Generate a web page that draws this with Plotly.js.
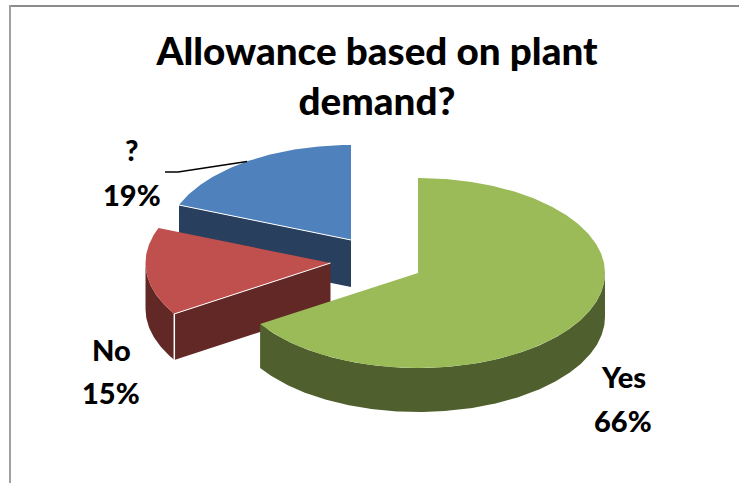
<!DOCTYPE html>
<html>
<head>
<meta charset="utf-8">
<script src="https://cdn.plot.ly/plotly-3.0.1.min.js"></script>
<style>html,body{margin:0;padding:0;background:#fff}#chart{width:739px;height:483px}</style>
</head>
<body>
<div id="chart"></div>
<script>
const titleText = "Allowance based on plant<br>demand?";
const categories = ["Yes", "No", "?"];
const values = [66, 15, 19];
const percentLabels = ["66%", "15%", "19%"];
const topColors = ["#9BBB59", "#C0504D", "#4F81BD"];
const sideColors = ["#4F5F2D", "#622826", "#283F5E"];

// Projection of each exploded slice (pixel-scaled axes)
const centres = [[418, 273], [330.5, 263], [351, 240]];
const depths = [44, 46, 47];
const radiiX = [187, 185, 185];
const ry = 95;
const labelPos = [[623, 376, 420], [111, 349, 392], [132, 149, 194]];

const total = values.reduce((a, b) => a + b, 0);
const rad = d => d * Math.PI / 180;
let acc = 0;
const slices = values.map((v, i) => {
  const start = acc / total * 360; acc += v;
  return {start, end: acc / total * 360, c: centres[i], d: depths[i], rx: radiiX[i]};
});
const pt = (s, a, dz = 0) => [s.c[0] + s.rx * Math.sin(rad(a)), s.c[1] - ry * Math.cos(rad(a)) + dz];
function arc(s, a0, a1, dz = 0) {
  const out = [], n = Math.max(2, Math.ceil(Math.abs(a1 - a0) * 1.5));
  for (let k = 0; k <= n; k++) out.push(pt(s, a0 + (a1 - a0) * k / n, dz));
  return out;
}
function poly(points, color) {
  return {x: points.map(p => p[0]), y: points.map(p => p[1]), mode: "lines", fill: "toself",
    fillcolor: color, line: {width: 0, color: color}, hoverinfo: "skip", showlegend: false, type: "scatter"};
}
function seg(points, color, width) {
  return {x: points.map(p => p[0]), y: points.map(p => p[1]), mode: "lines",
    line: {width: width, color: color}, hoverinfo: "skip", showlegend: false, type: "scatter"};
}

const traces = [];
// Blue, slice "?": drawn first, at the back
{
  const s = slices[2], top = [s.c[0], s.c[1]], p = pt(s, s.start);
  traces.push(poly([top, p, [p[0], p[1] + s.d], [top[0], top[1] + s.d]], sideColors[2]));
  traces.push(poly([top, ...arc(s, s.start, s.end)], topColors[2]));
  traces.push(seg([top, p], "#FFFFFF", 1));
}
// Red, slice "No"
{
  const s = slices[1], top = [s.c[0], s.c[1]], p = pt(s, s.start);
  const wallEnd = 270;
  traces.push(poly([...arc(s, s.start, wallEnd), ...arc(s, wallEnd, s.start, s.d)], sideColors[1]));
  traces.push(poly([top, p, [p[0], p[1] + s.d], [top[0], top[1] + s.d]], sideColors[1]));
  traces.push(poly([top, ...arc(s, s.start, s.end)], topColors[1]));
  traces.push(seg([top, p], "#FFFFFF", 1));
  traces.push(seg([p, [p[0], p[1] + s.d]], "#FFFFFF", 1.5));
}
// Green, slice "Yes"
{
  const s = slices[0], top = [s.c[0], s.c[1]];
  traces.push(poly([...arc(s, 90, s.end), ...arc(s, s.end, 90, s.d)], sideColors[0]));
  traces.push(poly([top, ...arc(s, s.start, s.end)], topColors[0]));
}
// Leader line of "?"
{
  const s = slices[2];
  traces.push(seg([[165, 172], [178, 172], pt(s, (s.start + s.end) / 2)], "#000000", 1.5));
}

const labelFont = {family: "Lato, Carlito, sans-serif", size: 29, color: "#000000", weight: 900};
const annotations = [];
categories.forEach((c, i) => {
  const [x, y1, y2] = labelPos[i];
  annotations.push({x, y: y1, xref: "x", yref: "y", text: c, showarrow: false, font: labelFont});
  annotations.push({x, y: y2, xref: "x", yref: "y", text: percentLabels[i], showarrow: false, font: labelFont});
});

const layout = {
  width: 739, height: 483,
  margin: {l: 0, r: 0, t: 0, b: 0},
  paper_bgcolor: "#FFFFFF", plot_bgcolor: "#FFFFFF",
  title: {text: titleText,
    font: {family: "Lato, Carlito, sans-serif", size: 38.6, color: "#000000", weight: 900},
    x: 377 / 739, xanchor: "center", y: 1 - 65 / 483, yanchor: "top"},
  xaxis: {range: [0, 739], visible: false, fixedrange: true},
  yaxis: {range: [483, 0], visible: false, fixedrange: true},
  showlegend: false,
  annotations: annotations,
  shapes: [
    {type: "line", xref: "x", yref: "y", x0: 10, x1: 739, y0: 6, y1: 6, line: {color: "#8C8C8C", width: 2}},
    {type: "line", xref: "x", yref: "y", x0: 10, x1: 10, y0: 5, y1: 483, line: {color: "#A0A0A0", width: 2}}
  ]
};
Plotly.newPlot("chart", traces, layout, {staticPlot: true, displayModeBar: false});
</script>
</body>
</html>
